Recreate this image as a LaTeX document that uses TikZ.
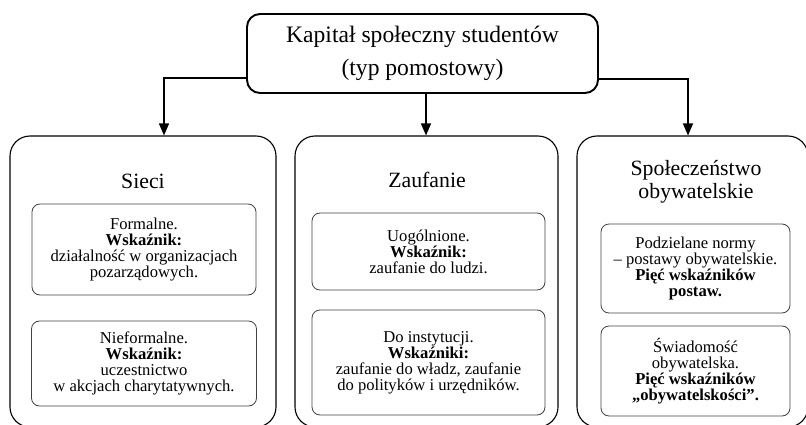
\documentclass[tikz,border=0pt]{standalone}
\usepackage{fontspec}
\setmainfont{Liberation Serif}
\usetikzlibrary{arrows.meta}
\begin{document}
\begin{tikzpicture}[x=1pt,y=-1pt,
  topbox/.style={draw, line width=1.9pt, rounded corners=13pt, align=center,
    font=\fontsize{23.6}{33}\selectfont},
  bigbox/.style={draw, line width=1.1pt, rounded corners=20pt},
  heading/.style={align=center, font=\fontsize{21.8}{23.5}\selectfont},
  innerbox/.style={draw=black!75, line width=0.8pt, rounded corners=8pt,
    align=center, font=\fontsize{16.6}{16}\selectfont},
  conn/.style={line width=1.3pt, -{Triangle[length=12pt,width=10pt]}}
]
\useasboundingbox (0,0) rectangle (806,425);

\node[topbox, minimum width=351pt, minimum height=79pt] (top) at (422.5,53.5)
  {Kapitał społeczny studentów\\(typ pomostowy)};

\node[bigbox, minimum width=266pt, minimum height=291pt] (sieci) at (143,281.5) {};
\node[bigbox, minimum width=263pt, minimum height=291pt] (zauf) at (426.5,281.5) {};
\node[bigbox, minimum width=231pt, minimum height=291pt] (spol) at (692.5,281.5) {};

\node[heading] (hs) at (143,181) {Sieci};
\node[heading] (hz) at (427,180) {Zaufanie};
\node[heading] (hp) at (696,182) {Społeczeństwo\\obywatelskie};

\node[innerbox, minimum width=224pt, minimum height=91pt] (s1) at (144,249.5)
  {Formalne.\\\textbf{Wskaźnik:}\\działalność w organizacjach\\pozarządowych.};
\node[innerbox, minimum width=225pt, minimum height=85pt] (s2) at (144,363.5)
  {Nieformalne.\\\textbf{Wskaźnik:}\\uczestnictwo\\w akcjach charytatywnych.};

\node[innerbox, minimum width=233pt, minimum height=77pt] (z1) at (428.5,251.5)
  {Uogólnione.\\\textbf{Wskaźnik:}\\zaufanie do ludzi.};
\node[innerbox, minimum width=233pt, minimum height=105pt] (z2) at (428.5,362.5)
  {Do instytucji.\\\textbf{Wskaźniki:}\\zaufanie do władz, zaufanie\\do polityków i urzędników.};

\node[innerbox, minimum width=189pt, minimum height=89pt] (p1) at (695.5,268.5)
  {Podzielane normy\\– postawy obywatelskie.\\\textbf{Pięć wskaźników}\\\textbf{postaw.}};
\node[innerbox, minimum width=189pt, minimum height=90pt] (p2) at (695.5,371)
  {Świadomość\\obywatelska.\\\textbf{Pięć wskaźników}\\\textbf{„obywatelskości”.}};

\draw[conn] (top.west |- 0,78) -| (sieci.north -| 164,0);
\draw[conn] (top.south -| 426,0) -- (zauf.north -| 426,0);
\draw[conn] (top.east |- 0,79) -| (spol.north -| 688,0);
\end{tikzpicture}
\end{document}
